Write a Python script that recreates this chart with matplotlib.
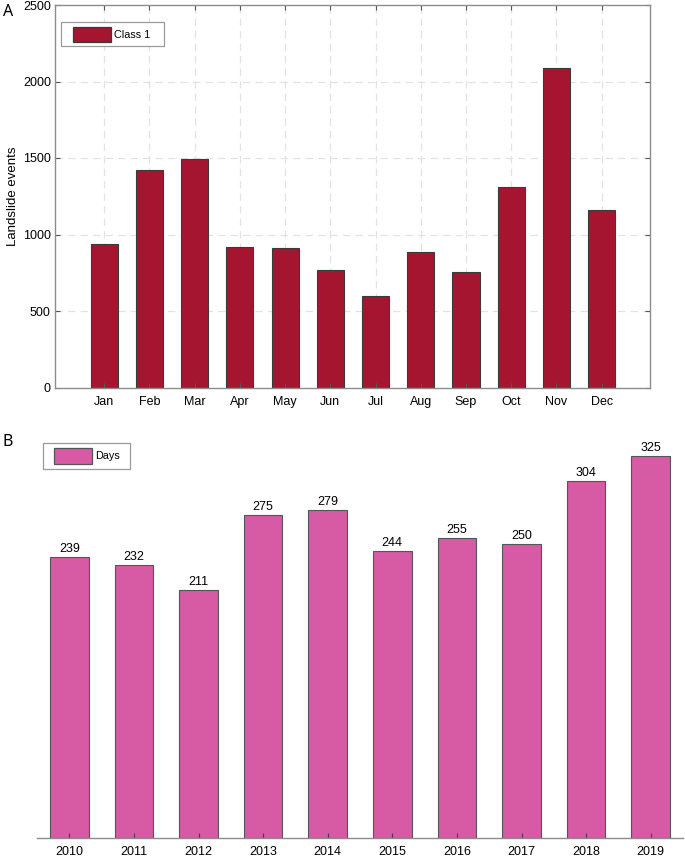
import matplotlib
matplotlib.use("Agg")
import matplotlib.pyplot as plt
from matplotlib.patches import Rectangle

plt.rcParams["font.family"] = ["Liberation Sans", "DejaVu Sans"]

# 数据
months = ["Jan", "Feb", "Mar", "Apr", "May", "Jun",
          "Jul", "Aug", "Sep", "Oct", "Nov", "Dec"]
landslide_events = [941, 1420, 1491, 917, 911, 767, 597, 886, 756, 1313, 2091, 1161]
years = ["2010", "2011", "2012", "2013", "2014",
         "2015", "2016", "2017", "2018", "2019"]
days = [239, 232, 211, 275, 279, 244, 255, 250, 304, 325]
label_a = "Class 1"
label_b = "Days"

W, H = 685, 858
color_a = "#A51530"
color_b = "#D75AA5"
spine_c = "#8c8c8c"


def px_rect(l, t, r, b):
    """像素坐标 -> figure 坐标 [left, bottom, width, height]"""
    return [l / W, 1 - b / H, (r - l) / W, (b - t) / H]


def px(x, y):
    return x / W, 1 - y / H


def draw_legend(fig, box, patch, tx, text, color, edge):
    """手动画图例框"""
    l, t, r, b = box
    fig.add_artist(Rectangle(px(l, b), (r - l) / W, (b - t) / H,
                             transform=fig.transFigure, facecolor="white",
                             edgecolor="#9a9a9a", linewidth=0.9, zorder=5))
    l, t, r, b = patch
    fig.add_artist(Rectangle(px(l, b), (r - l) / W, (b - t) / H,
                             transform=fig.transFigure, facecolor=color,
                             edgecolor=edge, linewidth=0.9, zorder=6))
    fig.text(*px(tx, (t + b) / 2), text, fontsize=7.8, ha="left",
             va="center", zorder=7)


fig = plt.figure(figsize=(W / 100, H / 100), dpi=100)

# ---------- A: 每月滑坡事件 ----------
ax1 = fig.add_axes(px_rect(55, 5, 650, 387.5))
x1 = list(range(len(months)))
ax1.bar(x1, landslide_events, width=0.6, color=color_a,
        edgecolor="#3a3a3a", linewidth=0.8, zorder=1)
ax1.set_xlim(-1.09, len(months) - 1 + 1.07)
ax1.set_ylim(0, 2500)
ax1.set_xticks(x1)
ax1.set_xticklabels(months)
ax1.set_yticks(range(0, 2501, 500))

# 网格线画在柱子下面
for xv in x1:
    ax1.axvline(xv, color="#e3e3e3", linestyle=(0, (6, 4)), linewidth=0.9, zorder=0.2)
for yv in range(500, 2500, 500):
    ax1.axhline(yv, color="#e3e3e3", linestyle=(0, (6, 4)), linewidth=0.9, zorder=0.2)

ax1.tick_params(axis="both", direction="in", length=3.5, width=0.8,
                color="#555555", labelsize=9, top=True, right=True)
ax1.tick_params(axis="x", pad=6)
ax1.tick_params(axis="y", pad=3)
for s in ax1.spines.values():
    s.set_color(spine_c)
    s.set_linewidth(1.0)
ax1.set_ylabel("Landslide events", fontsize=9.5, labelpad=3)

# ---------- B: 每年天数 ----------
ax2 = fig.add_axes(px_rect(37, 440, 683, 838))
x2 = list(range(len(years)))
bars = ax2.bar(x2, days, width=0.6, color=color_b,
               edgecolor="#555555", linewidth=0.8, zorder=1)
ax2.set_xlim(-0.5, len(years) - 0.5)
ax2.set_ylim(0, 338.7)
ax2.set_xticks(x2)
ax2.set_xticklabels(years)
ax2.set_yticks([])
for side in ["left", "right", "top"]:
    ax2.spines[side].set_visible(False)
ax2.spines["bottom"].set_color(spine_c)
ax2.spines["bottom"].set_linewidth(1.0)
ax2.tick_params(axis="x", direction="in", length=3.5, width=0.8,
                color="#444444", labelsize=9, pad=5.5)
for xi, v in zip(x2, days):
    ax2.annotate(str(v), (xi, v), xytext=(0, 1.5), textcoords="offset points",
                 ha="center", va="bottom", fontsize=9)

# 图例
draw_legend(fig, (61, 22, 164, 46), (73, 27, 111, 42), 114, label_a,
            color_a, "#3a3a3a")
draw_legend(fig, (43, 443, 130, 469), (54, 448, 92, 464), 95, label_b,
            color_b, "#555555")

# 面板标签
fig.text(*px(3, 12), "A", fontsize=11.5, family=["Noto Sans", "DejaVu Sans"],
         ha="left", va="center")
fig.text(*px(3, 442), "B", fontsize=11.5, family=["Noto Sans", "DejaVu Sans"],
         ha="left", va="center")

fig.savefig("out.png", dpi=100)
